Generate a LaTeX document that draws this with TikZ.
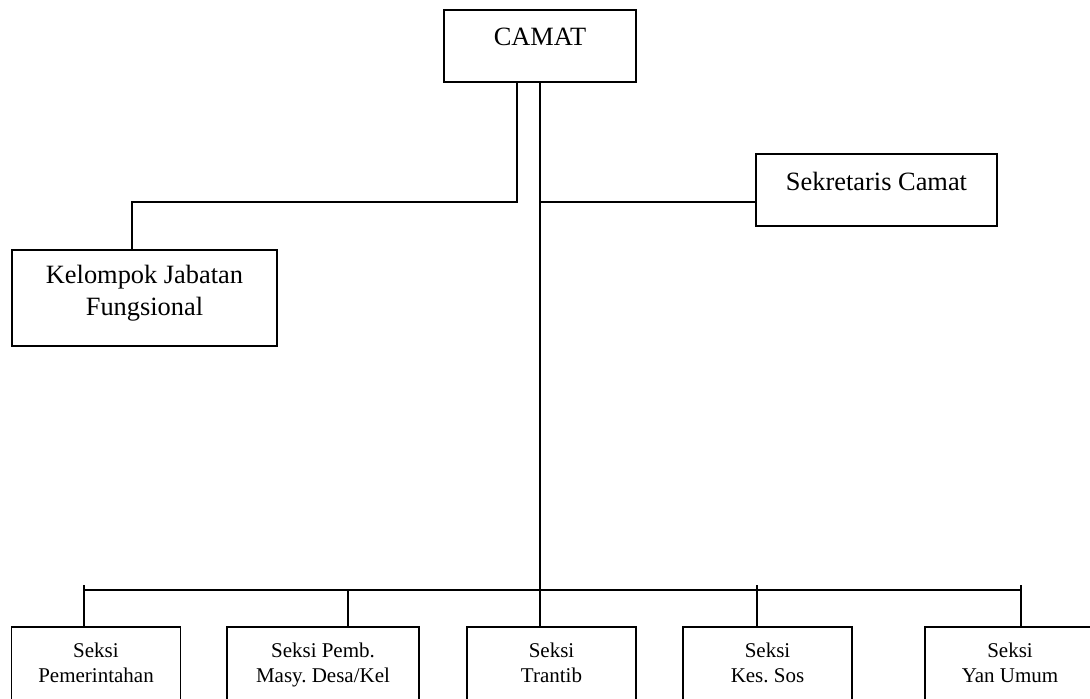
\documentclass[tikz,border=0pt]{standalone}
\usepackage{fontspec}
\setmainfont{Liberation Serif}
\frenchspacing
\begin{document}
\begin{tikzpicture}[x=0.5pt,y=-0.5pt,line width=0.9pt,
  unit box/.style={draw,inner sep=0pt,align=center,anchor=base},
  big node/.style={unit box,font=\fontsize{13.2}{16}\selectfont},
  small node/.style={unit box,font=\fontsize{10.5}{12.5}\selectfont,minimum width=84.5pt,text height=27.5pt,text depth=15pt}]
  \useasboundingbox (0,0) rectangle (1090,698);
  \clip (0,0) rectangle (1090,698);

  \node[big node,minimum width=96pt,text height=17.5pt,text depth=18.5pt] (camat) at (540,45) {CAMAT};
  \node[big node,minimum width=120.5pt,text height=18pt,text depth=18pt] (sekcam) at (876.5,190) {Sekretaris Camat};
  \node[big node,minimum width=132.5pt,text height=32.5pt,text depth=15.5pt] (kjf) at (144.5,315) {Kelompok Jabatan\\Fungsional};

  \node[small node] (s1) at (96,682) {Seksi\\Pemerintahan};
  \node[small node,minimum width=96pt] (s2) at (323,682) {Seksi Pemb.\\Masy. Desa/Kel};
  \node[small node] (s3) at (551.5,682) {Seksi\\Trantib};
  \node[small node] (s4) at (767.5,682) {Seksi\\Kes. Sos};
  \node[small node,minimum width=85pt] (s5) at (1010,682) {Seksi\\Yan Umum};

  \coordinate (sj) at ([yshift=-6pt]sekcam.west);
  \coordinate (kj) at ([xshift=-6.25pt]kjf.north);
  \coordinate (bus) at (540,590);

  \draw (camat.south) -- (camat.south |- s3.north);
  \draw ([xshift=-11.5pt]camat.south) |- (sj -| kj) -- (kj);
  \draw (sj -| camat.south) -- (sj);

  \foreach \s/\dx/\up in {s1/-6/2.5,s2/12.5/0,s4/-5.25/2.5,s5/5.5/2.5}{
    \coordinate (t\s) at ([xshift=\dx pt]\s.north);
    \draw (t\s) -- ([yshift=\up pt]t\s |- bus);
  }
  \draw (ts1 |- bus) -- (ts5 |- bus);
\end{tikzpicture}
\end{document}
